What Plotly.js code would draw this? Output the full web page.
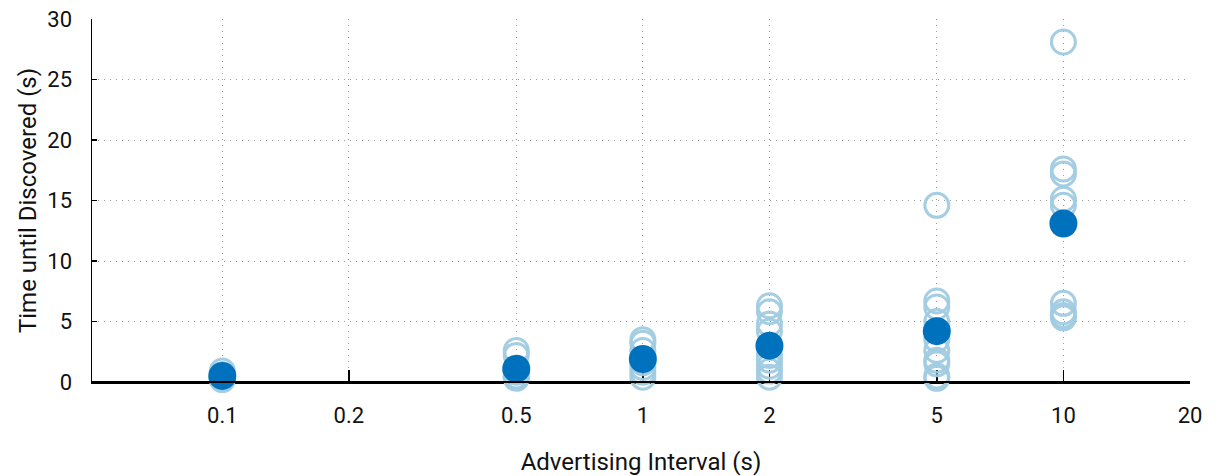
<!DOCTYPE html>
<html>
<head>
<meta charset="utf-8">
<script src="https://cdn.plot.ly/plotly-3.0.1.min.js"></script>
<style>html,body{margin:0;padding:0;background:#fff;}#chart{width:1219px;height:476px;}</style>
</head>
<body>
<div id="chart"></div>
<script>
// Individual trials (open circles)
const trialX = [
  0.1,0.1,0.1,0.1,0.1,0.1,
  0.5,0.5,0.5,0.5,0.5,0.5,0.5,
  1,1,1,1,1,1,1,
  2,2,2,2,2,2,2,2,2,
  5,5,5,5,5,5,5,5,5,5,
  10,10,10,10,10,10,10,10,10
];
const trialY = [
  0.2,0.4,0.6,0.9,0.5,0.3,
  2.6,2.2,0.3,0.5,0.8,1.0,0.4,
  3.5,3.2,2.6,0.4,0.8,1.2,1.6,
  6.3,5.8,4.8,4.2,1.3,0.9,0.4,1.8,2.2,
  14.6,6.7,6.2,5.0,3.5,2.6,1.8,1.5,0.5,0.3,
  28.1,17.6,17.2,15.1,14.6,6.5,5.8,5.5,5.3
];
// Mean per interval (filled circles)
const meanX = [0.1, 0.5, 1, 2, 5, 10];
const meanY = [0.5, 1.1, 1.9, 3.0, 4.2, 13.1];
const xTickVals = [0.1, 0.2, 0.5, 1, 2, 5, 10, 20];
const xTickText = ['0.1','0.2','0.5','1','2','5','10','20'];
const yTickVals = [0, 5, 10, 15, 20, 25, 30];

const data = [
  {x: trialX, y: trialY, type: 'scatter', mode: 'markers', cliponaxis: false,
   marker: {symbol: 'circle-open', size: 24, color: 'rgba(160,203,226,0.95)', line: {width: 3, color: 'rgba(160,203,226,0.95)'}},
   hoverinfo: 'x+y'},
  {x: meanX, y: meanY, type: 'scatter', mode: 'markers', cliponaxis: false,
   marker: {symbol: 'circle', size: 28, color: '#0072bd', line: {width: 0}},
   hoverinfo: 'x+y'}
];

const layout = {
  width: 1219, height: 476,
  margin: {l: 92, r: 29, t: 19, b: 94},
  paper_bgcolor: '#fff', plot_bgcolor: '#fff',
  showlegend: false,
  font: {family: 'Roboto, sans-serif', size: 22, color: '#111'},
  xaxis: {
    type: 'log', range: [Math.log10(0.049), Math.log10(20)],
    tickvals: xTickVals, ticktext: xTickText,
    ticks: 'inside', ticklen: 12, tickwidth: 1.5, tickcolor: '#000',
    showline: true, linecolor: '#000', linewidth: 2,
    showgrid: true, gridcolor: '#999', gridwidth: 1, griddash: '1px,5px',
    zeroline: false, ticklabelstandoff: 13, layer: 'below traces',
    tickfont: {size: 22},
    title: {text: 'Advertising Interval (s)', font: {size: 24}, standoff: 28}
  },
  yaxis: {
    range: [0, 30], tickvals: yTickVals,
    ticks: 'inside', ticklen: 5, tickwidth: 1.5, tickcolor: '#000',
    showline: true, linecolor: '#000', linewidth: 1.5,
    showgrid: true, gridcolor: '#999', gridwidth: 1, griddash: '1px,5px',
    zeroline: false, ticklabelstandoff: 14, layer: 'below traces',
    tickfont: {size: 22},
    title: {text: 'Time until Discovered (s)', font: {size: 24}, standoff: 4}
  },
  shapes: [
    {type: 'line', xref: 'paper', yref: 'paper', x0: 0, x1: 1, y0: 0, y1: 0,
     line: {color: '#000', width: 2}, layer: 'above'}
  ]
};

Plotly.newPlot('chart', data, layout, {displayModeBar: false, staticPlot: true});
</script>
</body>
</html>
